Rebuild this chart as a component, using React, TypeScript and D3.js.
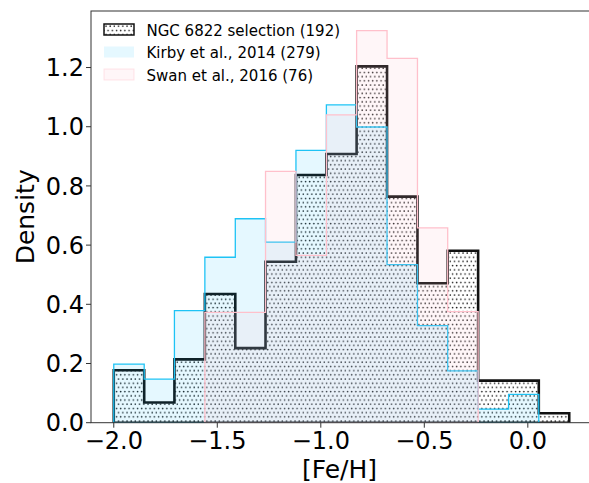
import React from 'react';
import * as d3 from 'd3';

const binEdges = [-2.0, -1.853, -1.707, -1.56, -1.413, -1.267, -1.12, -0.973, -0.827, -0.68, -0.533, -0.387, -0.24, -0.093, 0.053, 0.2];
const ngcDensity = [0.177, 0.068, 0.214, 0.435, 0.252, 0.544, 0.837, 0.908, 1.204, 0.764, 0.471, 0.581, 0.142, 0.142, 0.032];
const kirbyDensity = [0.198, 0.147, 0.379, 0.559, 0.689, 0.61, 0.92, 1.074, 0.999, 0.534, 0.328, 0.175, 0.046, 0.096, 0];
const swanDensity = [0, 0, 0, 0.373, 0.373, 0.849, 0.565, 1.04, 1.325, 1.231, 0.658, 0.375, 0, 0, 0];
const xTicks = [-2.0, -1.5, -1.0, -0.5, 0.0];
const yTicks = [0, 0.2, 0.4, 0.6, 0.8, 1.0, 1.2];
const legendLabels = ['NGC 6822 selection (192)', 'Kirby et al., 2014 (279)', 'Swan et al., 2016 (76)'];

const W = 589;
const H = 483;
const left = 91;
const top = 11;
const bottom = 422.7;
const right = 592;
const font = 'DejaVu Sans, sans-serif';

const x = d3.scaleLinear().domain([-2.11, 0.31]).range([left, right]);
const y = d3.scaleLinear().domain([0, 1.391]).range([bottom, top]);

function stepPath(vals: number[]): string {
  let i0 = vals.findIndex((v) => v > 0);
  let i1 = vals.length - 1;
  while (i1 > 0 && !(vals[i1] > 0)) i1--;
  const p = d3.path();
  p.moveTo(x(binEdges[i0]), y(0));
  for (let i = i0; i <= i1; i++) {
    p.lineTo(x(binEdges[i]), y(vals[i]));
    p.lineTo(x(binEdges[i + 1]), y(vals[i]));
  }
  p.lineTo(x(binEdges[i1 + 1]), y(0));
  p.closePath();
  return p.toString();
}

const fmt = (v: number) => v.toFixed(1).replace('-', '\u2212');

export default function App() {
  return (
    <svg width={W} height={H} style={{ position: 'absolute', left: 0, top: 0, background: '#fff' }}>
      <defs>
        <pattern id="dots" patternUnits="userSpaceOnUse" width={4.2} height={8.4}>
          <circle cx={1} cy={1} r={0.8} fill="#111" />
          <circle cx={3.1} cy={5.2} r={0.8} fill="#111" />
        </pattern>
        <clipPath id="plotclip">
          <rect x={left} y={top} width={right - left} height={bottom - top} />
        </clipPath>
      </defs>
      <rect x={0} y={0} width={W} height={H} fill="#fff" />
      <g clipPath="url(#plotclip)">
        <path d={stepPath(ngcDensity)} fill="url(#dots)" stroke="#111" strokeWidth={2.6} strokeLinejoin="miter" />
        <path d={stepPath(kirbyDensity)} fill="#00bfff" fillOpacity={0.1} stroke="#1ec3f5" strokeWidth={1.3} />
        <path d={stepPath(swanDensity)} fill="#ffc0cb" fillOpacity={0.14} stroke="#ffc0cb" strokeWidth={1.3} />
      </g>
      {/* spines */}
      <rect x={left} y={top} width={right - left} height={bottom - top} fill="none" stroke="#333" strokeWidth={1} />
      {/* x ticks */}
      {xTicks.map((t) => (
        <g key={'x' + t}>
          <line x1={x(t)} x2={x(t)} y1={bottom} y2={bottom + 5} stroke="#333" strokeWidth={1} />
          <text x={x(t)} y={449} textAnchor="middle" fontFamily={font} fontSize={24} fill="#000">{fmt(t)}</text>
        </g>
      ))}
      {/* y ticks */}
      {yTicks.map((t) => (
        <g key={'y' + t}>
          <line x1={left - 5} x2={left} y1={y(t)} y2={y(t)} stroke="#333" strokeWidth={1} />
          <text x={84} y={y(t)} dy="0.36em" textAnchor="end" fontFamily={font} fontSize={24} fill="#000">{fmt(t)}</text>
        </g>
      ))}
      <text x={(left + right) / 2 - 2} y={478} textAnchor="middle" fontFamily={font} fontSize={25} fill="#000">[Fe/H]</text>
      <text transform={`translate(34,${(top + bottom) / 2}) rotate(-90)`} textAnchor="middle" fontFamily={font} fontSize={25} fill="#000">Density</text>
      {/* legend */}
      <g>
        <rect x={104} y={24} width={30} height={11} fill="url(#dots)" stroke="#111" strokeWidth={1.5} />
        <rect x={104} y={46.5} width={30} height={11} fill="#00bfff" fillOpacity={0.1} stroke="none" />
        <rect x={104} y={69} width={30} height={11} fill="#ffc0cb" fillOpacity={0.14} stroke="#ffc0cb" strokeOpacity={0.4} strokeWidth={1} />
        {legendLabels.map((l, i) => (
          <text key={l} x={146.5} y={35.5 + i * 22.5} fontFamily={font} fontSize={15} fill="#000">{l}</text>
        ))}
      </g>
    </svg>
  );
}
